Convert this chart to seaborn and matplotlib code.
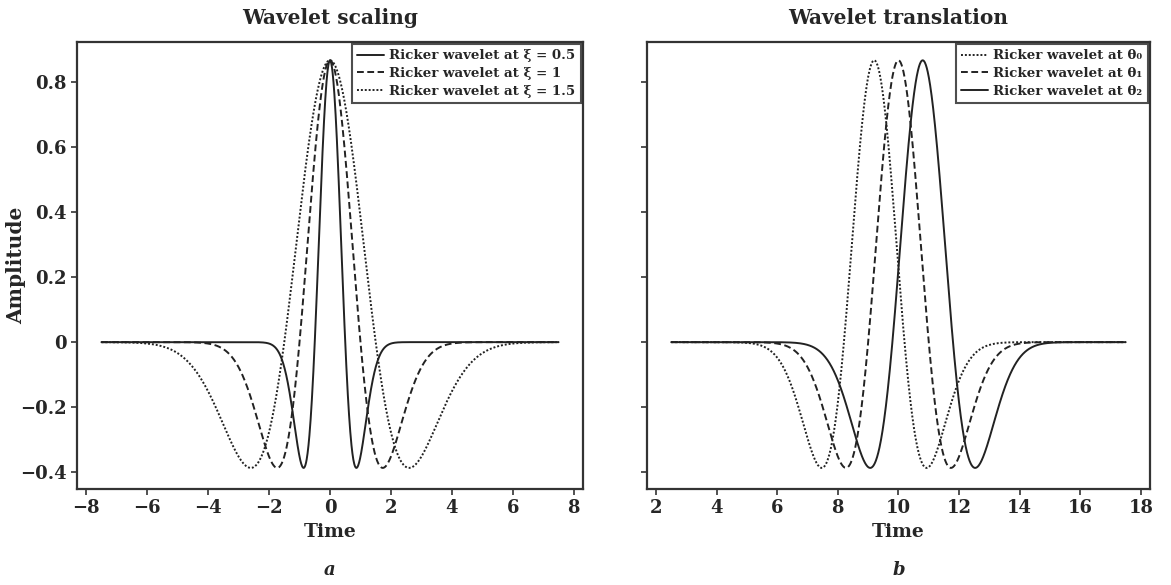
import numpy as np
import pandas as pd
import matplotlib
matplotlib.use("Agg")
import matplotlib.pyplot as plt
import seaborn as sns
from matplotlib.ticker import FuncFormatter

# values
peak_amp = 0.867          # height of every wavelet peak
scales = [0.5, 1.0, 1.5]  # xi, left panel
scale_labels = ["Ricker wavelet at ξ = 0.5",
                "Ricker wavelet at ξ = 1",
                "Ricker wavelet at ξ = 1.5"]
shifts = [9.2, 10.0, 10.8]  # theta_0..2, right panel (xi = 1)
shift_labels = ["Ricker wavelet at θ₀",
                "Ricker wavelet at θ₁",
                "Ricker wavelet at θ₂"]
time_left = [-7.5, 7.5]
time_right = [2.5, 17.5]
xticks_left = [-8, -6, -4, -2, 0, 2, 4, 6, 8]
xticks_right = [2, 4, 6, 8, 10, 12, 14, 16, 18]
yticks = [-0.4, -0.2, 0, 0.2, 0.4, 0.6, 0.8]


def ricker(t, center, width):
    u = ((t - center) / width) ** 2
    return peak_amp * (1 - u) * np.exp(-u / 2)


sns.set_style("ticks")
plt.rcParams['font.family'] = ['DejaVu Serif']
plt.rcParams['font.weight'] = 'bold'
plt.rcParams['axes.edgecolor'] = '#333333'
plt.rcParams['axes.linewidth'] = 1.6

fig = plt.figure(figsize=(11.71, 5.85), dpi=100)
ax1 = fig.add_axes([0.0658, 0.164, 0.432, 0.764])
ax2 = fig.add_axes([0.5525, 0.164, 0.4295, 0.764])

dotted = (0, (1, 1))
dashed = (0, (3.5, 1.8))

# panel a
t = np.linspace(time_left[0], time_left[1], 1500)
for s, lab, ls in zip(scales, scale_labels, ['-', dashed, dotted]):
    df = pd.DataFrame({'Time': t, 'Amplitude': ricker(t, 0, s)})
    sns.lineplot(data=df, x='Time', y='Amplitude', ax=ax1, color='#222222',
                 linestyle=ls, linewidth=1.4, label=lab)

# panel b
t = np.linspace(time_right[0], time_right[1], 1500)
for c, lab, ls in zip(shifts, shift_labels, [dotted, dashed, '-']):
    df = pd.DataFrame({'Time': t, 'Amplitude': ricker(t, c, 1.0)})
    sns.lineplot(data=df, x='Time', y='Amplitude', ax=ax2, color='#222222',
                 linestyle=ls, linewidth=1.4, label=lab)

fmt = FuncFormatter(lambda v, p: f"{v:g}".replace('-', '\u2212'))

for ax, xt, title, letter in [(ax1, xticks_left, "Wavelet scaling", "a"),
                              (ax2, xticks_right, "Wavelet translation", "b")]:
    ax.set_xticks(xt)
    ax.set_yticks(yticks)
    ax.set_xlim(xt[0] - 0.3, xt[-1] + 0.3)
    ax.set_ylim(-0.452, 0.923)
    ax.xaxis.set_major_formatter(fmt)
    ax.yaxis.set_major_formatter(fmt)
    ax.tick_params(direction='out', length=4, width=1.2, labelsize=13, color='#333333')
    ax.set_title(title, fontsize=14.5, fontweight='bold', pad=13)
    ax.set_xlabel("Time", fontsize=13.5, fontweight='bold', labelpad=4)
    ax.text(0.5, -0.181, letter, transform=ax.transAxes, ha='center', va='center',
            fontsize=13, fontweight='bold', style='italic')
    leg = ax.legend(loc='upper right', fontsize=9.6, frameon=True, fancybox=False,
                    handlelength=2.0, handletextpad=0.4, borderaxespad=0.15,
                    labelspacing=0.35, borderpad=0.4)
    leg.get_frame().set_edgecolor('#222222')
    leg.get_frame().set_linewidth(1.5)
    for txt in leg.get_texts():
        txt.set_fontweight('bold')

ax1.set_ylabel("Amplitude", fontsize=14.5, fontweight='bold')
ax1.yaxis.set_label_coords(-0.1, 0.5)
ax2.set_ylabel("")
ax2.set_yticklabels([])

fig.savefig("out.png", dpi=100)
